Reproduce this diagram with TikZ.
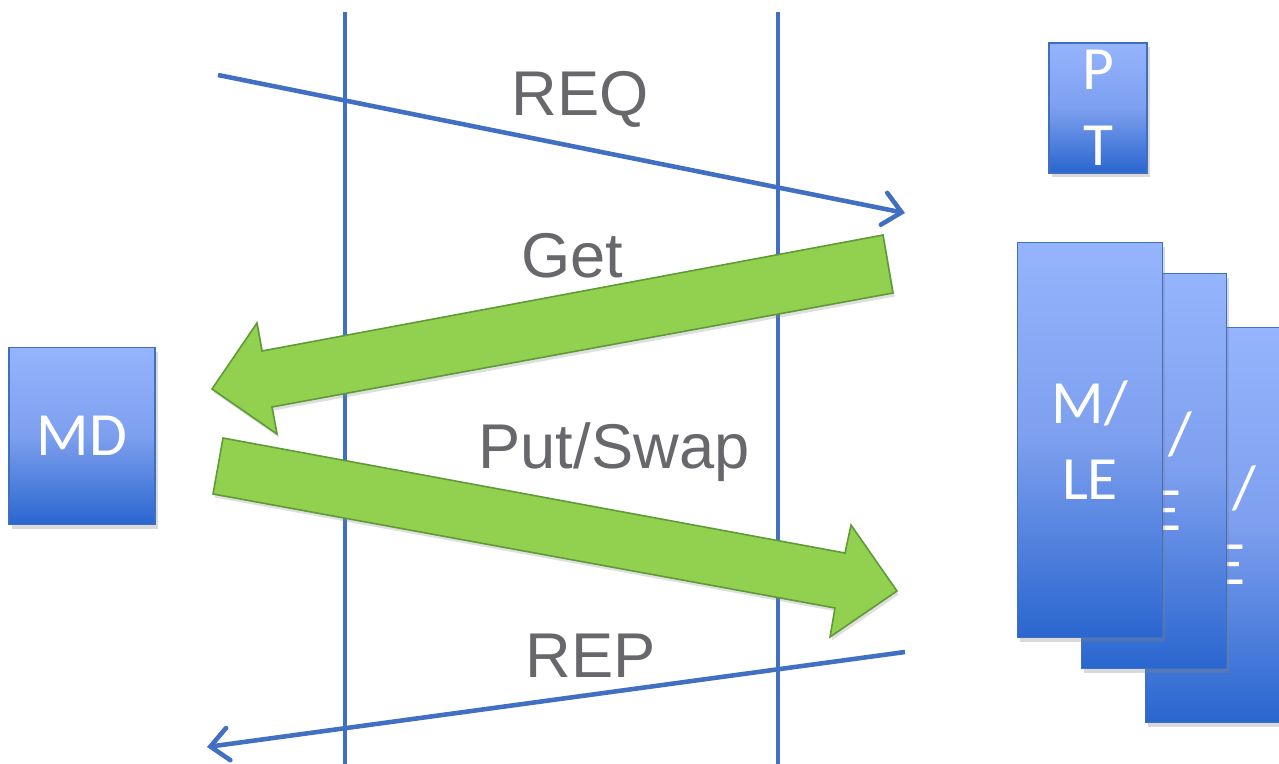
\documentclass[tikz,border=0pt]{standalone}
\usepackage{fontspec}
\setmainfont{Liberation Sans}
\newfontfamily\boxfont{Carlito}
\usetikzlibrary{arrows.meta,shadows}
\definecolor{laneblue}{HTML}{4170C3}
\definecolor{boxtop}{HTML}{95B4FD}
\definecolor{boxmid}{HTML}{7D9FEE}
\definecolor{boxbot}{HTML}{2A66CF}
\definecolor{boxline}{HTML}{3F6FC0}
\definecolor{leaf}{HTML}{92D050}
\definecolor{leafline}{HTML}{5E9A36}
\definecolor{txtgrey}{HTML}{67676C}

\begin{document}
\begin{tikzpicture}[x=0.02cm,y=-0.02cm,
  blk/.style={draw=boxline,line width=0.8pt,top color=boxtop,bottom color=boxbot,
              middle color=boxmid,text=white,align=center,inner sep=0pt,
              font=\boxfont\fontsize{35}{43}\selectfont,
              drop shadow={shadow xshift=1.5pt,shadow yshift=-2.5pt,opacity=.3}},
  lane/.style={laneblue,line width=2.6pt},
  msg/.style={laneblue,line width=2.6pt,
              -{Straight Barb[length=3.6mm,width=6.5mm,line cap=round]}},
  fat/.style={fill=leaf,draw=leafline,line width=0.9pt,line join=miter,
              drop shadow={shadow xshift=1pt,shadow yshift=-2pt,opacity=.25}},
  lbl/.style={anchor=base,text=txtgrey,inner sep=0pt,
              font=\fontsize{36}{43}\selectfont}
]
\useasboundingbox (0,0) rectangle (1279,764);
\clip (0,0) rectangle (1279,764);

% the two lifelines
\coordinate (l1top) at (345,12);  \coordinate (l1bot) at (345,764);
\coordinate (l2top) at (778,12);  \coordinate (l2bot) at (778,764);
\draw[lane] (l1top) -- (l1bot);
\draw[lane] (l2top) -- (l2bot);

% request / reply
\coordinate (reqA) at (218,75);  \coordinate (reqB) at (905,213);
\coordinate (repA) at (905,652); \coordinate (repB) at (207,747);
\draw[msg] (reqA) -- (reqB);
\draw[msg] (repA) -- (repB);

% block arrows
\coordinate (g1) at (883,235); \coordinate (g2) at (262,351);
\coordinate (g3) at (257,323); \coordinate (g4) at (212,389);
\coordinate (g5) at (277,434); \coordinate (g6) at (272,407);
\coordinate (g7) at (893,293);
\filldraw[fat] (g1) -- (g2) -- (g3) -- (g4) -- (g5) -- (g6) -- (g7) -- cycle;

\coordinate (p1) at (223,438); \coordinate (p2) at (845,553);
\coordinate (p3) at (851,525); \coordinate (p4) at (897,591);
\coordinate (p5) at (830,637); \coordinate (p6) at (835,608);
\coordinate (p7) at (213,494);
\filldraw[fat] (p1) -- (p2) -- (p3) -- (p4) -- (p5) -- (p6) -- (p7) -- cycle;

\node[lbl] (req) at (580,115) {REQ};
\node[lbl] (get) at (572,277) {Get};
\node[lbl] (put) at (614,468) {Put/Swap};
\node[lbl] (rep) at (591,677) {REP};

% boxes
\node[blk,minimum width=2.92cm,minimum height=3.54cm] (md) at (82,436) {MD};
\node[blk,minimum width=1.96cm,minimum height=2.6cm] (pt) at (1098,108) {P\\T};
\foreach \n/\cx/\cy in {3/1218/525,2/1154/471,1/1090/440}
  \node[blk,minimum width=2.9cm,minimum height=7.9cm] (mle\n) at (\cx,\cy) {M/\\LE};
\end{tikzpicture}
\end{document}
